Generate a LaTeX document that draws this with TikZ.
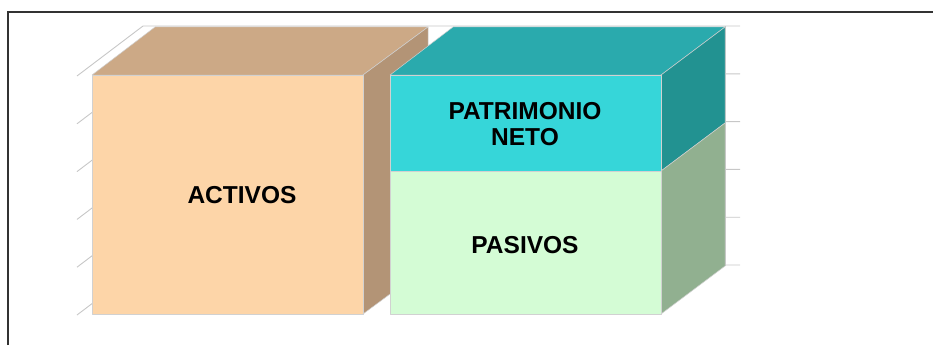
\documentclass[tikz,border=0pt]{standalone}
\usepackage{fontspec}
\setmainfont{Liberation Sans}
\usepackage{tikz}
\usetikzlibrary{calc, positioning}
\definecolor{activofront}{HTML}{FDD5A8}
\definecolor{activotop}{HTML}{CCA986}
\definecolor{activoside}{HTML}{B39476}
\definecolor{netofront}{HTML}{36D6D9}
\definecolor{netotop}{HTML}{2AAAAD}
\definecolor{netoside}{HTML}{229291}
\definecolor{pasivofront}{HTML}{D4FCD5}
\definecolor{pasivoside}{HTML}{91B090}
\tikzstyle{frame} = [draw=black!80, line width=1.4pt]
\tikzstyle{grid} = [draw=black!22, line width=0.9pt]
\tikzstyle{face} = [draw=black!18, line width=0.5pt, line join=round]
\tikzstyle{label} = [font=\fontsize{24.5}{26}\selectfont\bfseries, text=black, align=center, inner sep=0pt]

\begin{document}
\begin{tikzpicture}[x=1pt, y=-1pt]
		\useasboundingbox (0,0) rectangle (933,345);
		\coordinate (FrameBL) at (8,345);
		\coordinate (FrameTL) at (8,12);
		\coordinate (FrameTR) at (933,12);
		\draw [frame] (FrameBL) -- (FrameTL) -- (FrameTR);
		% walls of the chart
		\foreach \i in {0,...,5} {
			\coordinate (Back\i) at (143,26+47.8*\i);
			\draw [grid] ($(Back\i)+(-66,50)$) -- (Back\i) -- ($(Back\i)+(597,0)$);
		}
		\draw [grid] (Back0) ++(582,0) -- ++(0,240);
		% ACTIVOS
		\filldraw [face, fill=activotop] (92,75) -- (155,27) -- (428,27) -- (363,75) -- cycle;
		\filldraw [face, fill=activoside] (363,75) -- (428,27) -- (428,266) -- (363,314) -- cycle;
		\filldraw [face, fill=activofront] (92,75) rectangle (363,314);
		% PATRIMONIO NETO
		\filldraw [face, fill=netotop] (390,75) -- (453,27) -- (725,27) -- (661,75) -- cycle;
		\filldraw [face, fill=netoside] (661,75) -- (725,27) -- (725,123) -- (661,171) -- cycle;
		\filldraw [face, fill=netofront] (390,75) rectangle (661,171);
		% PASIVOS
		\filldraw [face, fill=pasivoside] (661,171) -- (725,123) -- (725,266) -- (661,314) -- cycle;
		\filldraw [face, fill=pasivofront] (390,171) rectangle (661,314);
		\node (Activos) [label] at (242,195) {ACTIVOS};
		\node (Neto) [label] at (525,124) {PATRIMONIO\\NETO};
		\node (Pasivos) [label] at (525,245) {PASIVOS};
	\end{tikzpicture}
\end{document}
